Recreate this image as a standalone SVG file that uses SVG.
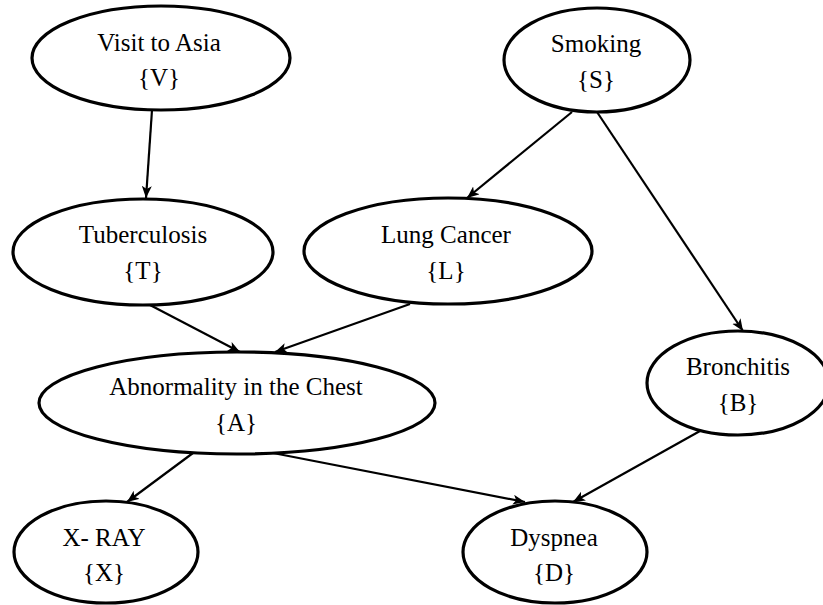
<svg xmlns="http://www.w3.org/2000/svg" width="823" height="605" viewBox="0 0 823 605">
  <style>
    .node ellipse { fill: #ffffff; stroke: #000000; stroke-width: 3.2; }
    .node text { font-family: 'Liberation Serif', Tinos, 'Times New Roman', 'DejaVu Serif', serif; font-size: 25px; fill: #000000; text-anchor: middle; }
    .edge { stroke: #000000; stroke-width: 2.2; fill: none; marker-end: url(#arrow); }
  </style>
  <defs>
    <marker id="arrow" markerUnits="userSpaceOnUse" markerWidth="14" markerHeight="12" refX="12" refY="5" orient="auto">
      <path d="M0,0 L12,5 L0,10 L3,5 z" fill="#000000"/>
    </marker>
  </defs>
  <rect width="823" height="605" fill="#ffffff"/>

  <!-- connectors -->
  <g id="edges">
    <line class="edge" x1="152" y1="110" x2="146" y2="198"/>
    <line class="edge" x1="572" y1="112" x2="467" y2="198"/>
    <line class="edge" x1="597" y1="112" x2="743" y2="331"/>
    <line class="edge" x1="150" y1="305" x2="240" y2="352"/>
    <line class="edge" x1="410" y1="304" x2="275" y2="352"/>
    <line class="edge" x1="193" y1="453" x2="127" y2="502"/>
    <line class="edge" x1="273" y1="453" x2="525" y2="502"/>
    <line class="edge" x1="700" y1="431" x2="573" y2="502"/>
  </g>

  <!-- nodes -->
  <g id="node-V" class="node">
    <ellipse cx="161" cy="58" rx="129" ry="52"/>
    <text x="159" y="51">Visit to Asia</text>
    <text x="159" y="86">{V}</text>
  </g>
  <g id="node-S" class="node">
    <ellipse cx="597" cy="60" rx="93" ry="52"/>
    <text x="596" y="52">Smoking</text>
    <text x="596" y="88">{S}</text>
  </g>
  <g id="node-T" class="node">
    <ellipse cx="143" cy="252" rx="130" ry="53"/>
    <text x="143" y="243">Tuberculosis</text>
    <text x="143" y="279">{T}</text>
  </g>
  <g id="node-L" class="node">
    <ellipse cx="448" cy="251" rx="144" ry="53"/>
    <text x="446" y="243">Lung Cancer</text>
    <text x="446" y="279">{L}</text>
  </g>
  <g id="node-A" class="node">
    <ellipse cx="237" cy="403" rx="198" ry="51"/>
    <text x="236" y="395">Abnormality in the Chest</text>
    <text x="236" y="431">{A}</text>
  </g>
  <g id="node-B" class="node">
    <ellipse cx="738" cy="383" rx="91" ry="52"/>
    <text x="738" y="375">Bronchitis</text>
    <text x="738" y="411">{B}</text>
  </g>
  <g id="node-X" class="node">
    <ellipse cx="106" cy="552" rx="92" ry="51"/>
    <text x="104" y="546">X- RAY</text>
    <text x="104" y="581">{X}</text>
  </g>
  <g id="node-D" class="node">
    <ellipse cx="555" cy="552" rx="92" ry="51"/>
    <text x="554" y="546">Dyspnea</text>
    <text x="554" y="581">{D}</text>
  </g>
</svg>
